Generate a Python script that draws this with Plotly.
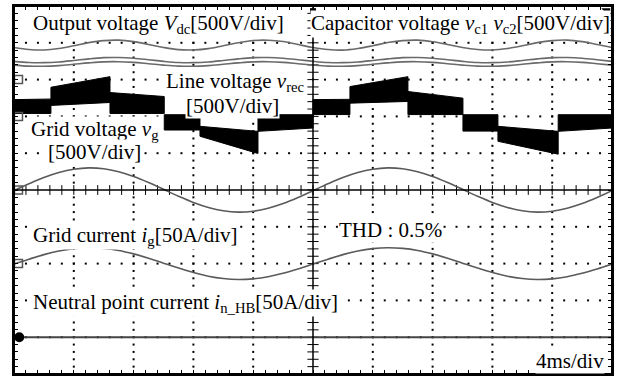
import plotly.graph_objects as go

# ---------------- data ----------------
# time axis in ms (4 ms/div, 10 divisions)
t_ms = list(range(0, 41))

# DC link / capacitor voltages [V] (500 V/div), zero at division 8
vdc_v = [436, 408, 402, 422, 460, 502, 530, 536, 516, 478,
         437, 407, 403, 421, 461, 501, 531, 535, 517, 477,
         436, 408, 401, 423, 460, 503, 530, 536, 515, 478,
         436, 409, 402, 422, 459, 502, 530, 537, 516, 478, 436]
vc1_v = [248, 232, 230, 240, 260, 282, 298, 300, 290, 270,
         248, 232, 230, 240, 260, 282, 298, 300, 290, 270,
         248, 232, 230, 240, 260, 282, 298, 300, 290, 270,
         248, 232, 230, 240, 260, 282, 298, 300, 290, 270, 248]
vc2_v = [197, 183, 181, 190, 208, 227, 241, 243, 234, 216,
         197, 183, 181, 190, 208, 227, 241, 243, 234, 216,
         197, 183, 181, 190, 208, 227, 241, 243, 234, 216,
         197, 183, 181, 190, 208, 227, 241, 243, 234, 216, 197]

# Grid voltage [V] (500 V/div), zero at division 5
vg_v = [-9, 84, 169, 237, 282, 300, 288, 248, 184, 102,
        9, -84, -169, -237, -282, -300, -288, -248, -184, -102,
        -9, 84, 169, 237, 282, 300, 288, 248, 184, 102,
        9, -84, -169, -237, -282, -300, -288, -248, -184, -102, -9]

# Grid current [A] (50 A/div), zero at division 3
ig_a = [-0.6, 6.0, 12.2, 17.1, 20.3, 21.6, 20.7, 17.9, 13.2, 7.3,
        0.6, -6.0, -12.2, -17.1, -20.3, -21.6, -20.7, -17.9, -13.2, -7.3,
        -0.6, 6.0, 12.2, 17.1, 20.3, 21.6, 20.7, 17.9, 13.2, 7.3,
        0.6, -6.0, -12.2, -17.1, -20.3, -21.6, -20.7, -17.9, -13.2, -7.3, -0.6]

# Neutral point current [A] (50 A/div), zero at division 1
inhb_t = [0, 40]
inhb_a = [0, 0]

# Line voltage v_rec (PWM envelope) [V] (500 V/div), zero at division 7
vrec_t_start = [0, 2.47, 6.42, 10.05, 12.44, 16.32, 20, 22.47, 26.35, 30.03, 32.37, 36.4]
vrec_t_end = [2.47, 6.42, 10.05, 12.44, 16.32, 20, 22.47, 26.35, 30.03, 32.37, 36.4, 40]
vrec_top_start = [228, 396, 324, 23, -135, 23, 228, 405, 338, 23, -135, 23]
vrec_top_end = [236, 540, 270, 23, -203, 23, 232, 540, 248, 23, -203, 23]
vrec_bot_start = [40, 149, 40, -185, -270, -203, 25, 180, 25, -200, -338, -203]
vrec_bot_end = [40, 189, 40, -185, -504, -158, 25, 203, 25, -200, -513, -158]

# channel settings
V_PER_DIV = 500.0
A_PER_DIV = 50.0
ZERO_VDC = 8.0
ZERO_VREC = 7.0
ZERO_VG = 5.0
ZERO_IG = 3.0
ZERO_INHB = 1.0


def to_div(vals, zero, scale):
    return [zero + v / scale for v in vals]


FONT = "Liberation Serif"
TRACE_GRAY = "#5a5a5a"

fig = go.Figure()

# ---------------- graticule ----------------
X0, X1, Y0, Y1 = 0.0, 40.0, 0.0, 10.0
dx_minor, dy_minor = 0.8, 0.2
gx, gy = [], []
for yl in [1, 2, 3, 4, 6, 7, 8, 9]:
    for k in range(1, 50):
        gx.append(k * dx_minor); gy.append(yl)
for xl in [4, 8, 12, 16, 24, 28, 32, 36]:
    for j in range(1, 50):
        gx.append(xl); gy.append(j * dy_minor)
fig.add_trace(go.Scatter(x=gx, y=gy, mode="markers",
                         marker=dict(symbol="square", size=2, color="black", line=dict(width=0)),
                         hoverinfo="skip", showlegend=False))
# ticks on centre lines
cx = [k * dx_minor for k in range(1, 50)]
fig.add_trace(go.Scatter(x=cx, y=[5] * len(cx), mode="markers",
                         marker=dict(symbol="line-ns", size=7, color="black",
                                     line=dict(width=1, color="black")),
                         hoverinfo="skip", showlegend=False))
cy = [j * dy_minor for j in range(1, 50)]
fig.add_trace(go.Scatter(x=[20] * len(cy), y=cy, mode="markers",
                         marker=dict(symbol="line-ew", size=8, color="black",
                                     line=dict(width=1, color="black")),
                         hoverinfo="skip", showlegend=False))

# ---------------- waveforms ----------------
# v_rec PWM band as filled polygons
px, py = [], []
for ts, te, a, b, c, d in zip(vrec_t_start, vrec_t_end, vrec_top_start, vrec_top_end,
                              vrec_bot_end, vrec_bot_start):
    px += [ts, te, te, ts, ts, None]
    py += [ZERO_VREC + a / V_PER_DIV, ZERO_VREC + b / V_PER_DIV,
           ZERO_VREC + c / V_PER_DIV, ZERO_VREC + d / V_PER_DIV,
           ZERO_VREC + a / V_PER_DIV, None]
fig.add_trace(go.Scatter(x=px, y=py, mode="lines", fill="toself", fillcolor="black",
                         line=dict(color="black", width=1), hoverinfo="skip", showlegend=False))

for vals, zero, scale, col, w in [
    (vdc_v, ZERO_VDC, V_PER_DIV, "#6a6a6a", 1.6),
    (vc1_v, ZERO_VDC, V_PER_DIV, "#6a6a6a", 1.6),
    (vc2_v, ZERO_VDC, V_PER_DIV, "#6a6a6a", 1.6),
    (vg_v, ZERO_VG, V_PER_DIV, TRACE_GRAY, 1.6),
    (ig_a, ZERO_IG, A_PER_DIV, TRACE_GRAY, 1.6),
]:
    fig.add_trace(go.Scatter(x=t_ms, y=to_div(vals, zero, scale), mode="lines",
                             line=dict(color=col, width=w, shape="spline", smoothing=1.0),
                             hoverinfo="skip", showlegend=False))
fig.add_trace(go.Scatter(x=inhb_t, y=to_div(inhb_a, ZERO_INHB, A_PER_DIV), mode="lines",
                         line=dict(color="#444444", width=2), hoverinfo="skip", showlegend=False))

# channel ground markers
fig.add_trace(go.Scatter(x=[0.3] * 4, y=[ZERO_VDC, ZERO_VREC, ZERO_VG, ZERO_IG], mode="markers",
                         marker=dict(symbol="square-open", size=8, color="#555555",
                                     line=dict(width=1.5, color="#555555")),
                         hoverinfo="skip", showlegend=False, cliponaxis=False))
fig.add_trace(go.Scatter(x=[0.35], y=[ZERO_INHB], mode="markers",
                         marker=dict(symbol="circle", size=10, color="black"),
                         hoverinfo="skip", showlegend=False, cliponaxis=False))
# trigger / corner indicators
fig.add_trace(go.Scatter(x=[20], y=[9.86], mode="markers",
                         marker=dict(symbol="square", size=6, color="black"),
                         hoverinfo="skip", showlegend=False))
fig.add_trace(go.Scatter(x=[39.68], y=[9.86], mode="markers",
                         marker=dict(symbol="triangle-ne", size=10, color="black"),
                         hoverinfo="skip", showlegend=False))

# ---------------- labels ----------------
labels = [
    ("Output voltage <i>V</i><sub>dc</sub>[500V/div]", 1.2, 9.52, "left"),
    ("Capacitor voltage <i>v</i><sub>c1</sub> <i>v</i><sub>c2</sub>[500V/div]", 19.8, 9.52, "left"),
    ("Line voltage <i>v</i><sub>rec</sub>", 10.1, 7.93, "left"),
    ("[500V/div]", 11.44, 7.27, "left"),
    ("Grid voltage <i>v</i><sub>g</sub>", 1.07, 6.63, "left"),
    ("[500V/div]", 2.2, 6.03, "left"),
    ("Grid current <i>i</i><sub>g</sub>[50A/div]", 1.2, 3.74, "left"),
    ("THD : 0.5%", 21.67, 3.92, "left"),
    ("Neutral point current <i>i</i><sub>n_HB</sub>[50A/div]", 1.2, 1.93, "left"),
    ("4ms/div", 39.53, 0.36, "right"),
]
for txt, x, y, anc in labels:
    fig.add_annotation(x=x, y=y, text=txt, showarrow=False, xanchor=anc, yanchor="middle",
                       font=dict(family=FONT, size=21, color="black"),
                       bgcolor="white", borderpad=0)

# centre lines and frame
fig.add_shape(type="line", x0=20, x1=20, y0=Y0, y1=Y1, line=dict(color="black", width=1.5))
fig.add_shape(type="line", x0=X0, x1=X1, y0=5, y1=5, line=dict(color="black", width=1.5))
fig.add_shape(type="rect", x0=X0, x1=X1, y0=Y0, y1=Y1, line=dict(color="black", width=2),
              layer="above")

axis_common = dict(showgrid=False, zeroline=False, showticklabels=False,
                   showline=True, linecolor="black", linewidth=2, mirror="ticks",
                   ticks="inside", ticklen=4, tickcolor="black", tickwidth=1)
fig.update_xaxes(range=[X0, X1], tick0=0, dtick=dx_minor, **axis_common)
fig.update_yaxes(range=[Y0, Y1], tick0=0, dtick=dy_minor, **axis_common)

fig.update_layout(width=627, height=378, margin=dict(l=14, r=15, t=4, b=4),
                  paper_bgcolor="white", plot_bgcolor="white", showlegend=False)

fig.write_html("out.html", config={"displayModeBar": False, "staticPlot": True},
               post_script="document.body.style.margin='0';document.body.style.padding='0';")
